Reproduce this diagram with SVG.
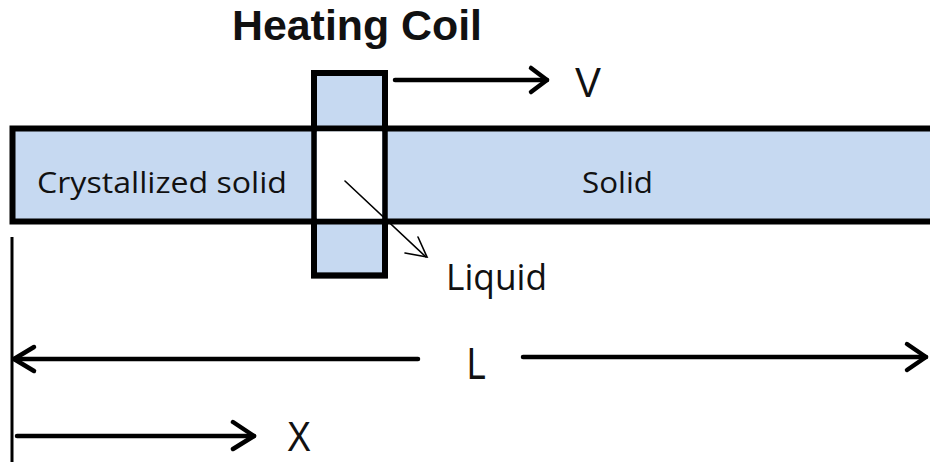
<svg xmlns="http://www.w3.org/2000/svg" width="930" height="462" viewBox="0 0 930 462">
<defs>
<style>
.blue{fill:#c6d9f1;stroke:#000;stroke-width:6}
.ln{stroke:#000;stroke-width:4.5;fill:none;stroke-linecap:round}
.head{stroke:#000;stroke-width:4.5;fill:none;stroke-linecap:round;stroke-linejoin:round}
.thin{stroke:#000;stroke-width:1.6;fill:none;stroke-linecap:round}
.t{font-family:"Open Sans","Liberation Sans",sans-serif;fill:#111}
.s{font-family:"Liberation Sans",Arial,sans-serif;fill:#111}
</style>
</defs>
<rect width="930" height="462" fill="#fff"/>
<g id="title"><text class="s" x="232" y="40" font-size="43" font-weight="bold" textLength="250" lengthAdjust="spacingAndGlyphs">Heating Coil</text></g>
<g id="coil-back"><rect class="blue" x="314" y="73" width="71" height="202.5" stroke-width="5.5"/></g>
<g id="bar">
<rect class="blue" x="12.5" y="128.5" width="930" height="93"/>
<text class="t" x="37" y="193" font-size="29" textLength="250" lengthAdjust="spacingAndGlyphs">Crystallized solid</text>
<text class="t" x="582" y="193" font-size="29" textLength="71" lengthAdjust="spacingAndGlyphs">Solid</text>
</g>
<g id="liquid-zone"><rect x="317" y="131.5" width="65" height="87" fill="#fff"/></g>
<g id="coil"><rect x="314" y="73" width="71" height="202.5" fill="none" stroke="#000" stroke-width="5.5"/></g>
<g id="connectors">
<line class="ln" x1="395" y1="80" x2="547" y2="80"/>
<polyline class="head" points="531,68 547,80 531,92"/>
<line class="thin" x1="345" y1="181" x2="426" y2="257"/>
<polyline class="thin" points="418,237 427,257 405,253"/>
<line x1="12" y1="237" x2="12" y2="462" stroke="#000" stroke-width="3"/>
<line class="ln" x1="14" y1="359" x2="418" y2="359"/>
<polyline class="head" points="34,347 14,359 34,371"/>
<line class="ln" x1="523" y1="357" x2="926" y2="357"/>
<polyline class="head" points="907,344 926,357 907,370"/>
<line class="ln" x1="17" y1="436" x2="254" y2="436"/>
<polyline class="head" points="233,422 254,436 233,449"/>
</g>
<g id="labels">
<text class="s" x="575" y="97" font-size="42" textLength="26" lengthAdjust="spacingAndGlyphs">V</text>
<text class="t" x="446" y="290" font-size="36" textLength="101" lengthAdjust="spacingAndGlyphs">Liquid</text>
<text class="s" x="467" y="379" font-size="44" textLength="19" lengthAdjust="spacingAndGlyphs">L</text>
<text class="s" x="287" y="451" font-size="43" textLength="24" lengthAdjust="spacingAndGlyphs">X</text>
</g>
</svg>
